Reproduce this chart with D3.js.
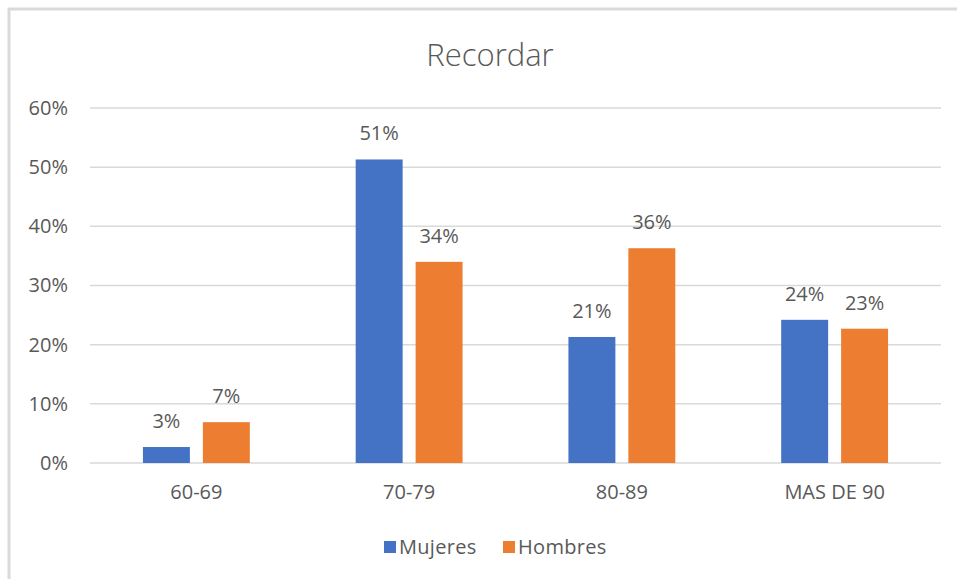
<!DOCTYPE html>
<html>
<head>
<meta charset="utf-8">
<script src="https://cdn.jsdelivr.net/npm/d3@7"></script>
<style>
	body { margin: 0; background: #fff; }
	text { font-family: "Open Sans", Lato, sans-serif; fill: #595959; }
</style>
</head>
<body>
<div id="chart"></div>
<script>
const categories = ['60-69', '70-79', '80-89', 'MAS DE 90'];
const seriesNames = ['Mujeres', 'Hombres'];
const mujeres = [0.027, 0.513, 0.213, 0.242];
const hombres = [0.069, 0.340, 0.363, 0.227];
const yTicks = [0, 0.1, 0.2, 0.3, 0.4, 0.5, 0.6];
const colors = ['#4472c4', '#ed7d31'];

const width = 957, height = 579;
const margin = {top: 108, right: 16, bottom: 116, left: 90};
const innerW = width - margin.left - margin.right;
const innerH = height - margin.top - margin.bottom;

const svg = d3.select('#chart').append('svg')
	.attr('width', width)
	.attr('height', height);

// chart frame (only top and left edges fall inside the photo)
svg.append('path')
	.attr('d', `M9,${height} V9 H${width}`)
	.attr('fill', 'none')
	.attr('stroke', '#d9d9d9')
	.attr('stroke-width', 3);

svg.append('text')
	.attr('x', 490)
	.attr('y', 66)
	.attr('text-anchor', 'middle')
	.style('font-size', '31px')
	.style('font-weight', 300)
	.text('Recordar');

const g = svg.append('g')
	.attr('transform', `translate(${margin.left}, ${margin.top})`);

const x0 = d3.scaleBand().domain(categories).range([0, innerW]);
const x1 = d3.scaleBand().domain(seriesNames)
	.range([0, x0.bandwidth()])
	.paddingInner(13 / 60)
	.paddingOuter(0.883);
const y = d3.scaleLinear().domain([0, 0.6]).range([innerH, 0]);

// gridlines
g.append('g')
	.selectAll('line')
	.data(yTicks)
	.join('line')
	.attr('x1', 0)
	.attr('x2', innerW)
	.attr('y1', d => y(d))
	.attr('y2', d => y(d))
	.attr('stroke', '#d9d9d9')
	.attr('stroke-width', 1.5);

const yAxis = g.append('g')
	.call(d3.axisLeft(y).tickValues(yTicks).tickFormat(d3.format('.0%')).tickSize(0).tickPadding(22));
yAxis.select('.domain').remove();
yAxis.selectAll('text').style('font-size', '20px').attr('fill', null);

const xAxis = g.append('g')
	.attr('transform', `translate(0, ${innerH})`)
	.call(d3.axisBottom(x0).tickSize(0).tickPadding(22));
xAxis.select('.domain').remove();
xAxis.selectAll('text').style('font-size', '20px').attr('fill', null);

const rows = categories.map((c, i) => ({cat: c, vals: [mujeres[i], hombres[i]]}));

const groups = g.selectAll('.grp')
	.data(rows)
	.join('g')
	.attr('class', 'grp')
	.attr('transform', d => `translate(${x0(d.cat)}, 0)`);

const cells = d => d.vals.map((v, j) => ({name: seriesNames[j], v, j}));

groups.selectAll('rect')
	.data(cells)
	.join('rect')
	.attr('x', d => x1(d.name))
	.attr('width', x1.bandwidth())
	.attr('y', d => y(d.v))
	.attr('height', d => y(0) - y(d.v))
	.attr('fill', d => colors[d.j]);

groups.selectAll('.lbl')
	.data(cells)
	.join('text')
	.attr('class', 'lbl')
	.attr('x', d => x1(d.name) + x1.bandwidth() / 2)
	.attr('y', d => y(d.v) - 19)
	.attr('text-anchor', 'middle')
	.style('font-size', '20px')
	.text(d => d3.format('.0%')(d.v));

// legend
const legend = svg.append('g').attr('transform', 'translate(384, 541)');
const legendX = [0, 119];
seriesNames.forEach((name, i) => {
	const item = legend.append('g').attr('transform', `translate(${legendX[i]}, 0)`);
	item.append('rect')
		.attr('width', 12)
		.attr('height', 12)
		.attr('fill', colors[i]);
	item.append('text')
		.attr('x', 15)
		.attr('y', 13)
		.style('font-size', '20px')
		.style('letter-spacing', '0.3px')
		.text(name);
});
</script>
</body>
</html>
